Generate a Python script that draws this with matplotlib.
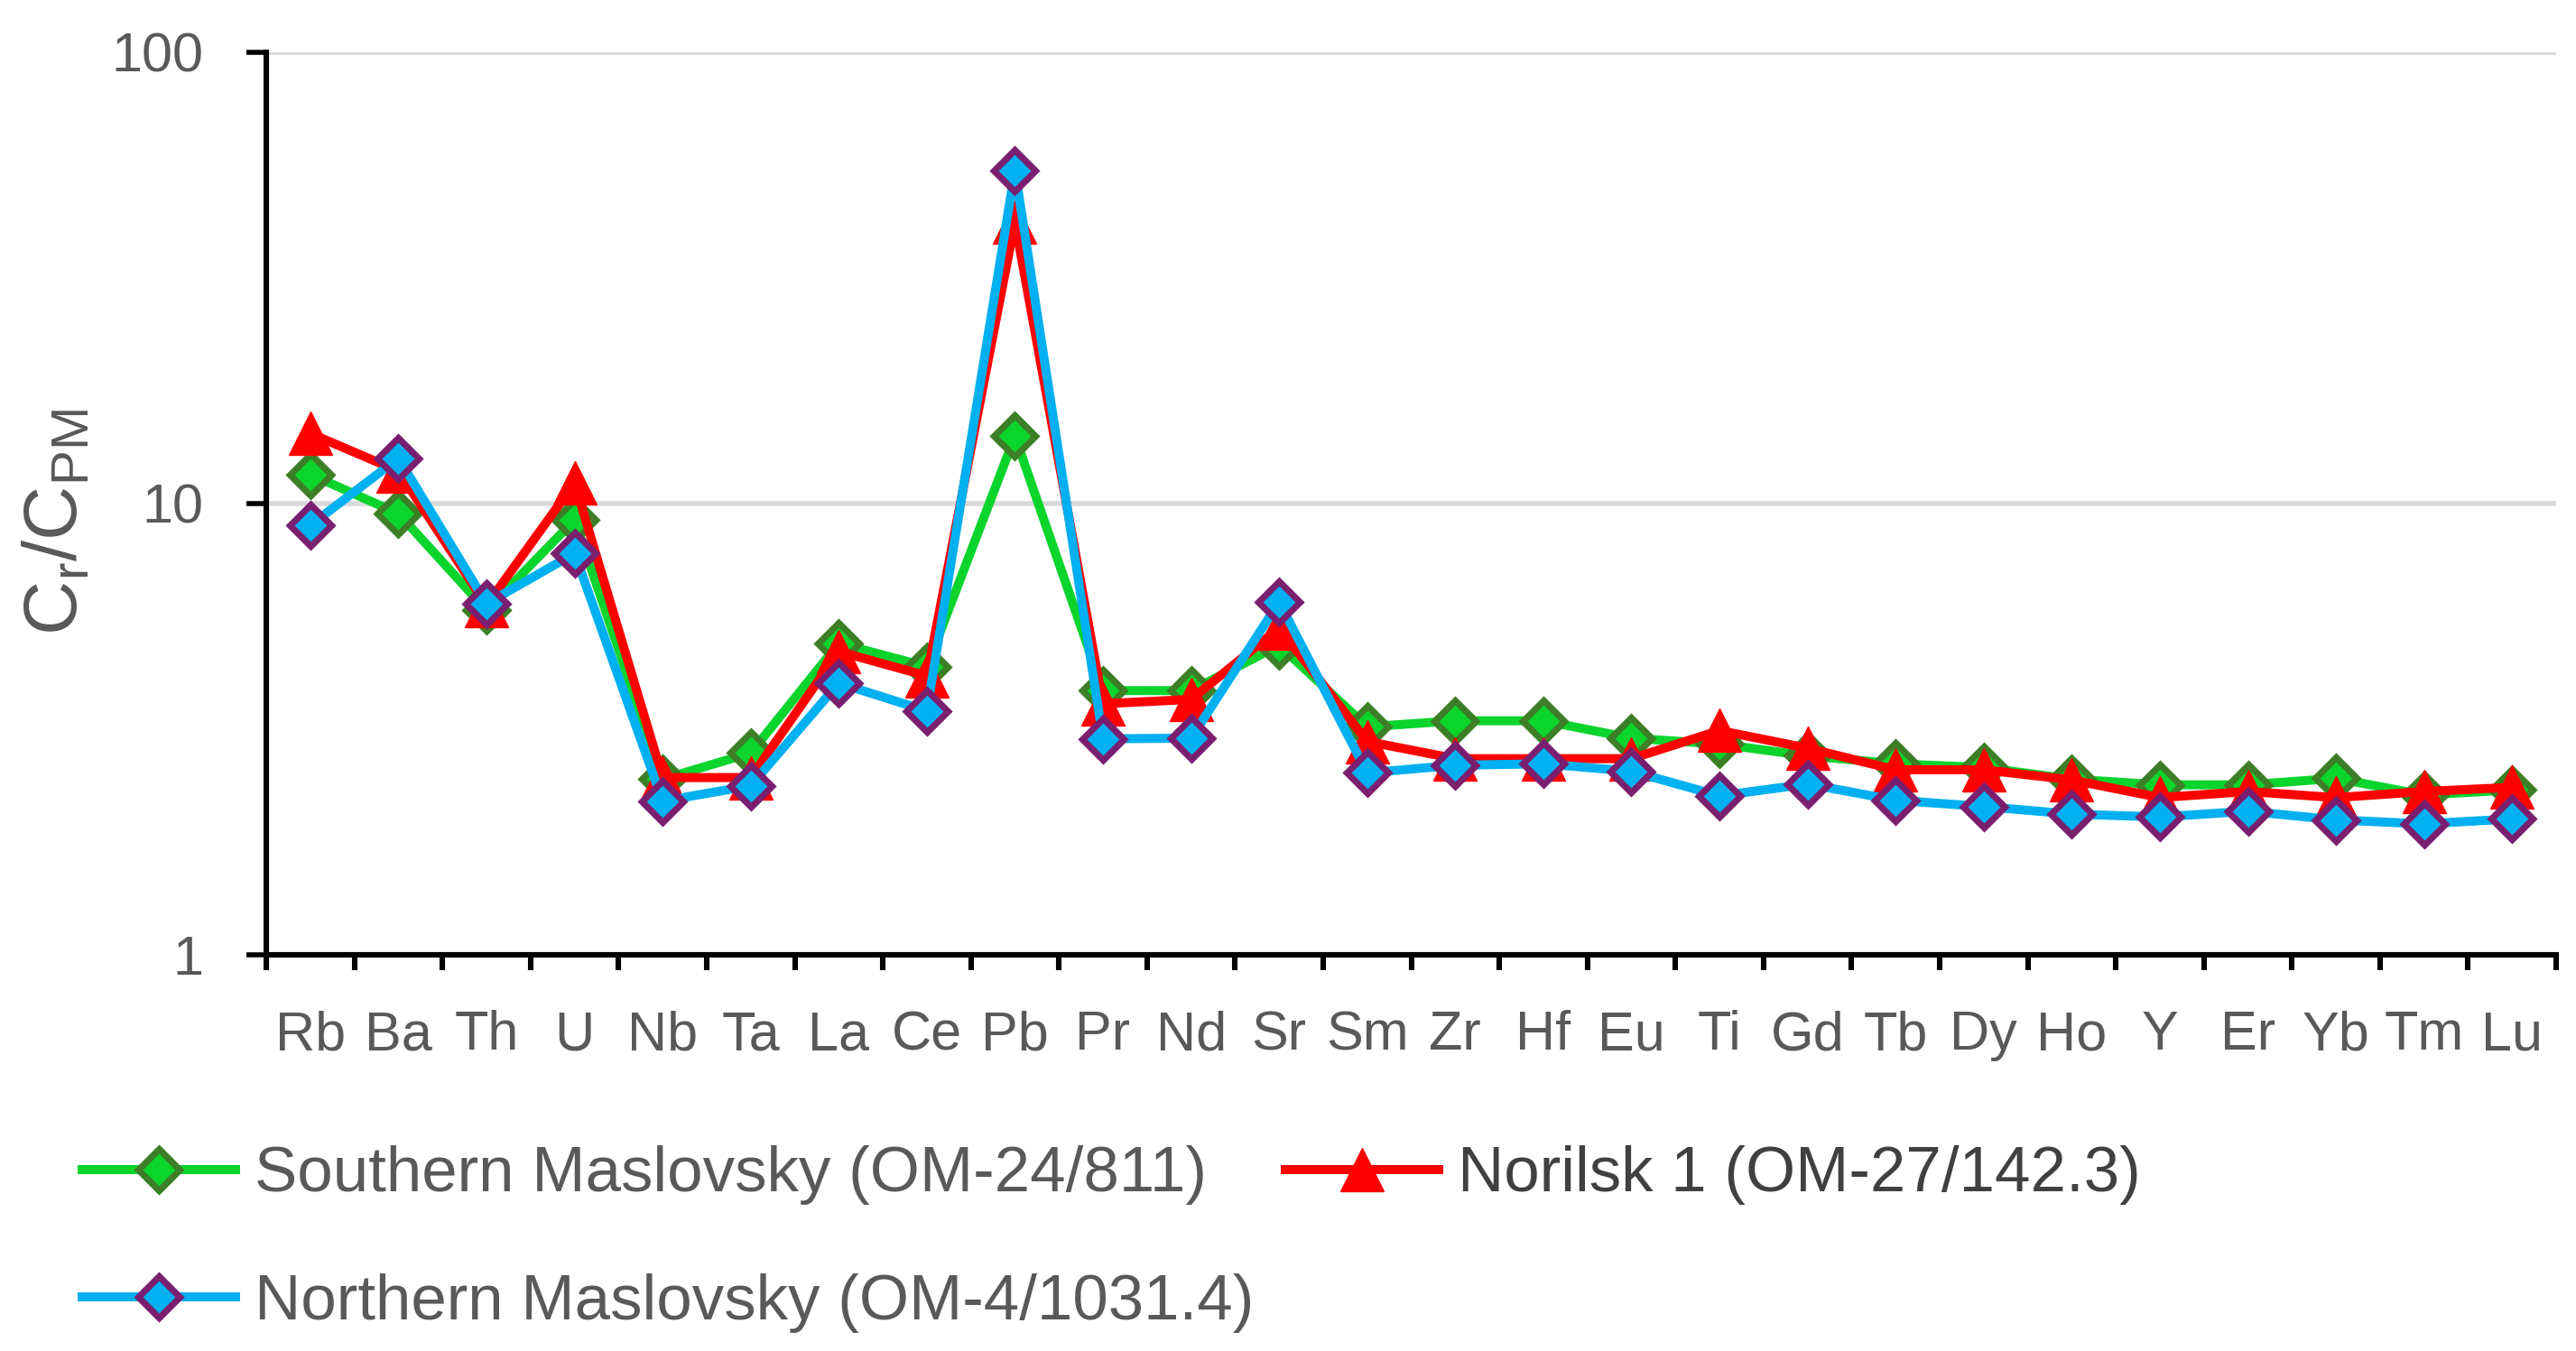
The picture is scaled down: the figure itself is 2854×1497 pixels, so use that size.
import matplotlib
matplotlib.use('Agg')
import matplotlib.pyplot as plt
from matplotlib.ticker import FixedLocator, NullFormatter

plt.rcParams['font.family'] = ['Liberation Sans', 'DejaVu Sans']

# trace elements, primitive-mantle normalised
elements = ['Rb', 'Ba', 'Th', 'U', 'Nb', 'Ta', 'La', 'Ce', 'Pb', 'Pr', 'Nd', 'Sr', 'Sm',
            'Zr', 'Hf', 'Eu', 'Ti', 'Gd', 'Tb', 'Dy', 'Ho', 'Y', 'Er', 'Yb', 'Tm', 'Lu']

southern = [11.6, 9.5, 5.8, 9.2, 2.45, 2.8, 4.9, 4.35, 14.1, 3.85, 3.85, 4.85, 3.2,
            3.3, 3.3, 3.02, 2.93, 2.76, 2.65, 2.6, 2.45, 2.38, 2.38, 2.46, 2.26, 2.32]
norilsk = [14.3, 11.8, 5.95, 11.1, 2.47, 2.47, 4.7, 4.15, 42.0, 3.6, 3.68, 5.3, 2.97,
           2.72, 2.72, 2.72, 3.14, 2.87, 2.57, 2.57, 2.44, 2.23, 2.3, 2.23, 2.3, 2.35]
northern = [8.95, 12.6, 6.0, 7.75, 2.19, 2.37, 4.0, 3.47, 54.7, 3.01, 3.02, 6.05, 2.53,
            2.63, 2.65, 2.55, 2.25, 2.39, 2.2, 2.13, 2.05, 2.02, 2.08, 1.99, 1.95, 2.0]

labels = ['Southern Maslovsky (OM-24/811)', 'Norilsk 1 (OM-27/142.3)',
          'Northern Maslovsky (OM-4/1031.4)']

grey = '#595959'
x = list(range(len(elements)))

fig = plt.figure(figsize=(14.27, 7.485), dpi=200)
ax = fig.add_axes([0.1034, 0.2933, 0.8889, 0.668])

l_s, = ax.plot(x, southern, color='#0BD42D', lw=3.6, marker='D', ms=11.5,
               mfc='#0BD42D', mec='#3C7F26', mew=2.6, zorder=3)
l_n, = ax.plot(x, norilsk, color='#FF0000', lw=3.6, marker='^', ms=17,
               mfc='#FF0000', mec='#FF0000', mew=0.5, zorder=4)
l_b, = ax.plot(x, northern, color='#00B0F0', lw=3.6, marker='D', ms=11.5,
               mfc='#00B0F0', mec='#7A1F70', mew=2.6, zorder=5)

ax.set_yscale('log')
ax.set_ylim(1, 100)
ax.set_xlim(-0.5, len(elements) - 0.5)

ax.yaxis.set_major_locator(FixedLocator([1, 10, 100]))
ax.yaxis.set_minor_locator(FixedLocator([]))
ax.set_yticklabels(['1', '10', '100'])
ax.grid(axis='y', which='major', color='#D9D9D9', lw=2.0, zorder=0)
ax.set_axisbelow(True)

ax.set_xticks(x)
ax.set_xticklabels(elements)
ax.xaxis.set_minor_locator(FixedLocator([i - 0.5 for i in range(len(elements) + 1)]))
ax.xaxis.set_minor_formatter(NullFormatter())
ax.tick_params(axis='x', which='major', length=0, pad=22, labelsize=22, labelcolor=grey)
ax.tick_params(axis='x', which='minor', length=6, width=2.2, direction='out', color='black')
ax.tick_params(axis='y', which='major', length=8, width=2.0, direction='out', pad=17,
               labelsize=22, labelcolor=grey, color='black')

for s in ['top', 'right']:
    ax.spines[s].set_visible(False)
for s in ['left', 'bottom']:
    ax.spines[s].set_linewidth(2.2)
    ax.spines[s].set_color('black')

ax.set_ylabel(r'C$_\mathregular{r}$/C$_\mathregular{PM}$', fontsize=30, color=grey)
ax.yaxis.set_label_coords(-0.076, 0.48)

leg1 = fig.legend([l_s, l_b], [labels[0], labels[2]], loc='upper left',
                  bbox_to_anchor=(0.0319, 0.152), frameon=False, fontsize=25.5,
                  borderpad=0, borderaxespad=0, handlelength=2.4, handletextpad=0.3,
                  labelspacing=1.06, labelcolor=grey)
leg2 = fig.legend([l_n], [labels[1]], loc='upper left',
                  bbox_to_anchor=(0.499, 0.152), frameon=False, fontsize=25.5,
                  borderpad=0, borderaxespad=0, handlelength=2.4, handletextpad=0.3,
                  labelcolor='#404040')

fig.savefig('out.png', dpi=200)
